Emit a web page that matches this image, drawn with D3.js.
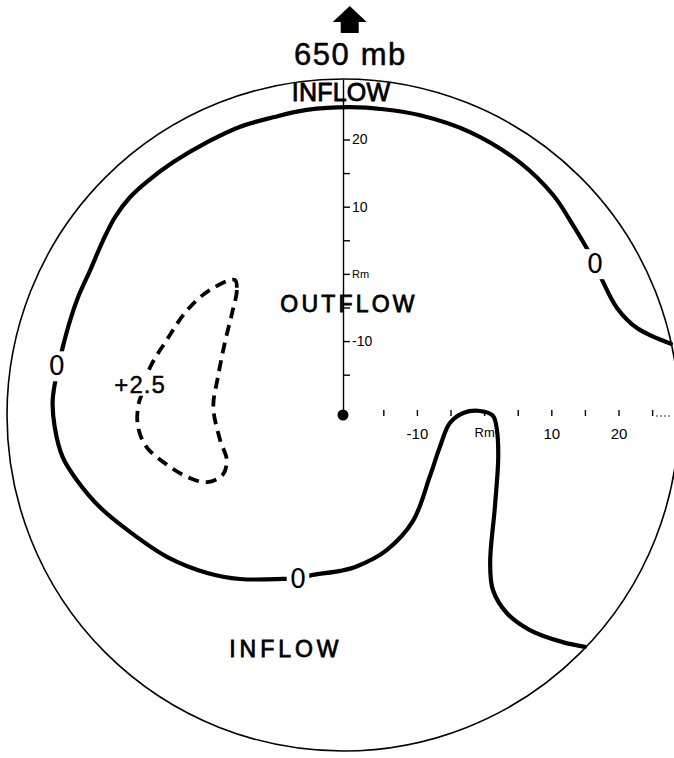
<!DOCTYPE html>
<html>
<head>
<meta charset="utf-8">
<script src="https://cdn.jsdelivr.net/npm/d3@7"></script>
<style>
  body { margin: 0; background: #fff; }
  text { font-family: "Liberation Sans", Arial, sans-serif; fill: #000; }
</style>
</head>
<body>
<div id="chart"></div>
<script>
var width = 674,
    height = 758;
var cx = 343, cy = 415, R = 336;

// radial distances, Rm sits at 21 units, the outer ring at 50
var rm = 21, rMax = 50;
var vTicks = [-15, -10, -5, 0, 5, 10, 15, 20];
var hTicks = [-15, -10, -5, 0, 5, 10, 15, 20, 25];
var tickNames = { "-10": "-10", "0": "Rm", "10": "10", "20": "20" };

// zero contour (boundary between inflow and outflow), x/y in radial units
var zeroLine = [
  [48.8, 10.6], [43.8, 12.9], [40.8, 15.9], [38.7, 19.8], [37.5, 22.5],
  [36.0, 25.3], [34.2, 28.3], [31.3, 32.7], [26.3, 37.6], [18.9, 42.1],
  [11.5, 44.6], [6.0, 45.5], [1.0, 45.8], [-5.4, 45.4], [-10.4, 44.3],
  [-15.3, 42.9], [-20.2, 40.6], [-25.3, 37.6], [-29.2, 34.7], [-31.7, 32.4],
  [-33.9, 29.5], [-35.7, 26.0], [-37.6, 21.6], [-39.4, 17.6], [-40.6, 14.1],
  [-41.7, 10.1], [-42.5, 6.6], [-43.2, 2.2], [-42.9, -1.8], [-41.7, -6.3],
  [-39.6, -9.7], [-36.2, -13.7], [-32.1, -17.1], [-26.2, -21.1], [-20.2, -23.5],
  [-15.3, -24.4], [-8.9, -24.4], [-6.7, -24.3], [-4.5, -23.8], [-0.4, -23.2],
  [2.1, -22.5], [6.5, -20.1], [10.4, -15.8], [12.9, -9.2], [14.4, -4.8],
  [15.9, -1.2], [17.9, 0.3], [20.4, 0.6], [22.3, -0.1], [22.9, -2.2],
  [23.1, -6.3], [22.6, -13.7], [21.9, -22.0], [22.3, -26.0], [24.4, -29.5],
  [27.8, -32.0], [32.7, -33.8], [36.0, -34.5]
];

// +2.5 outflow contour (closed)
var plusLine = [
  [-16.1, 20.1], [-15.8, 18.6], [-16.5, 15.2], [-17.6, 10.7], [-18.6, 5.7],
  [-19.3, 1.2], [-18.3, -3.7], [-17.3, -6.7], [-17.9, -8.9], [-20.2, -10.0],
  [-23.2, -9.2], [-26.2, -7.4], [-29.2, -4.8], [-30.5, -1.8], [-30.5, 1.2],
  [-29.9, 3.3], [-28.7, 7.1], [-26.2, 11.2], [-23.2, 15.6], [-19.8, 18.6],
  [-17.3, 20.1]
];

var contourLabels = [
  { x: 37.5, y: 22.5, text: "0" },
  { x: -42.6, y: 7.3, text: "0" },
  { x: -6.7, y: -24.3, text: "0" }
];
var plusLabel = { x: -30.2, y: 4.6, text: "+2.5" };

var regionLabels = [
  { x: -0.3, y: 46.8, text: "INFLOW", size: 25, spacing: 0.2 },
  { x: 0.9, y: 15.3, text: "OUTFLOW", size: 23, spacing: 3.2 },
  { x: -8.5, y: -36.0, text: "INFLOW", size: 23, spacing: 4.0 }
];

var svg = d3.select("#chart")
    .append("svg")
    .attr("width", width)
    .attr("height", height);

var x = d3.scaleLinear().domain([-rMax, rMax]).range([cx - R, cx + R]);
var y = d3.scaleLinear().domain([-rMax, rMax]).range([cy + R, cy - R]);
var up = d3.scaleLinear().domain([-rm, rMax - rm]).range([cy, cy - R]);
var right = d3.scaleLinear().domain([-rm, rMax - rm]).range([cx, cx + R]);

// outer ring
svg.append("circle")
    .attr("cx", x(0))
    .attr("cy", y(0))
    .attr("r", x(rMax) - x(0))
    .attr("fill", "none")
    .attr("stroke", "#000")
    .attr("stroke-width", 1.6);

// north arrow + level title
var ax = x(1);
svg.append("path")
    .attr("d", "M" + ax + ",6 L" + (ax + 17) + ",22 L" + (ax + 9) + ",22 L" + (ax + 9) + ",33 L"
        + (ax - 9) + ",33 L" + (ax - 9) + ",22 L" + (ax - 17) + ",22 Z")
    .attr("fill", "#000");
svg.append("text")
    .attr("x", x(1.1))
    .attr("y", 65)
    .attr("text-anchor", "middle")
    .style("font-size", "31px")
    .style("letter-spacing", "1.6px")
    .style("stroke", "#000")
    .style("stroke-width", 0.5)
    .text("650 mb");

// vertical radial axis
var vAxis = svg.append("g")
    .attr("transform", "translate(" + cx + ",0)")
    .call(d3.axisRight(up)
        .tickValues(vTicks)
        .tickSize(7)
        .tickSizeOuter(0)
        .tickFormat(function(d) { return tickNames[d] || ""; }));
vAxis.select(".domain").attr("stroke-width", 1.4);
vAxis.selectAll(".tick line").attr("stroke-width", 1.4);
vAxis.selectAll(".tick text")
    .attr("x", 9)
    .style("font-family", "'Liberation Sans', Arial, sans-serif")
    .style("font-size", function(d) { return d === 0 ? "11px" : "14px"; });

// horizontal radial axis (ticks only)
var hAxis = svg.append("g")
    .attr("transform", "translate(0," + (cy + 1) + ")")
    .call(d3.axisBottom(right)
        .tickValues(hTicks)
        .tickSize(6)
        .tickSizeOuter(0)
        .tickFormat(function(d) { return tickNames[d] || ""; }));
hAxis.select(".domain").remove();
hAxis.selectAll(".tick line").attr("y1", -6).attr("y2", 0).attr("stroke-width", 1.4);
hAxis.selectAll(".tick text")
    .attr("y", 12)
    .style("font-family", "'Liberation Sans', Arial, sans-serif")
    .style("font-size", function(d) { return d === 0 ? "13px" : "15px"; });
svg.append("line")
    .attr("x1", right(25.6)).attr("x2", right(27.6))
    .attr("y1", cy + 1).attr("y2", cy + 1)
    .attr("stroke", "#000")
    .attr("stroke-dasharray", "1.5,2.5")
    .attr("stroke-width", 1.2);

svg.append("circle")
    .attr("cx", cx)
    .attr("cy", cy)
    .attr("r", 5.5)
    .attr("fill", "#000");

// contours
var line = d3.line()
    .x(function(d) { return x(d[0]); })
    .y(function(d) { return y(d[1]); });

svg.append("path")
    .datum(zeroLine)
    .attr("d", line.curve(d3.curveCatmullRom.alpha(0.5)))
    .attr("fill", "none")
    .attr("stroke", "#000")
    .attr("stroke-width", 4.2)
    .attr("stroke-linecap", "round");

svg.append("path")
    .datum(plusLine.slice(0, -1))
    .attr("d", line.curve(d3.curveCatmullRomClosed.alpha(0.5)))
    .attr("fill", "none")
    .attr("stroke", "#000")
    .attr("stroke-width", 3.8)
    .attr("stroke-dasharray", "11,7");

// labels sit on a white patch that breaks the contour under them
function knockout(sel, padX, padY) {
  sel.each(function() {
    var node = this, b = node.getBBox();
    d3.select(node.parentNode).insert("rect", function() { return node; })
        .attr("x", b.x - padX)
        .attr("y", b.y - padY)
        .attr("width", b.width + 2 * padX)
        .attr("height", b.height + 2 * padY)
        .attr("fill", "#fff");
  });
}

var cl = svg.selectAll(".clabel")
    .data(contourLabels)
    .enter().append("text")
    .attr("class", "clabel")
    .attr("x", function(d) { return x(d.x); })
    .attr("y", function(d) { return y(d.y); })
    .attr("dy", "0.36em")
    .attr("text-anchor", "middle")
    .style("font-family", "'DejaVu Sans', sans-serif")
    .style("font-size", "26px")
    .text(function(d) { return d.text; });
knockout(cl, 3, 0);

var pl = svg.append("text")
    .attr("x", x(plusLabel.x))
    .attr("y", y(plusLabel.y))
    .attr("dy", "0.36em")
    .attr("text-anchor", "middle")
    .style("font-size", "24px")
    .style("letter-spacing", "1px")
    .style("stroke", "#000")
    .style("stroke-width", 0.4)
    .text(plusLabel.text);
knockout(pl, 1, -2);

svg.selectAll(".rlabel")
    .data(regionLabels)
    .enter().append("text")
    .attr("class", "rlabel")
    .attr("x", function(d) { return x(d.x); })
    .attr("y", function(d) { return y(d.y); })
    .attr("text-anchor", "middle")
    .style("font-size", function(d) { return d.size + "px"; })
    .style("letter-spacing", function(d) { return d.spacing + "px"; })
    .style("stroke", "#000")
    .style("stroke-width", 0.8)
    .text(function(d) { return d.text; });
</script>
</body>
</html>
